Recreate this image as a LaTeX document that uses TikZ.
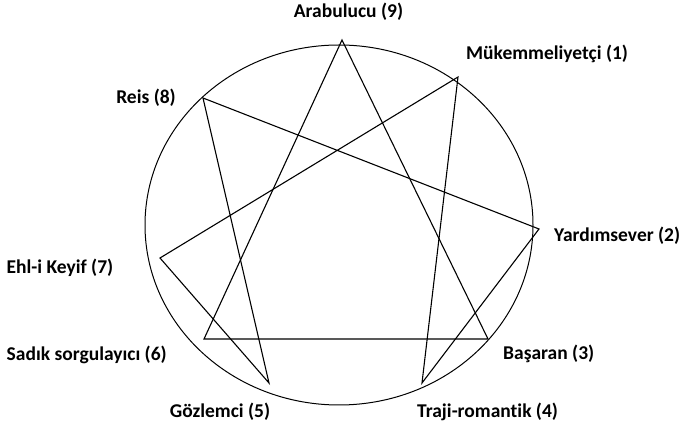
\documentclass[tikz,border=0pt]{standalone}
\usepackage{fontspec}
\setmainfont[Ligatures=NoCommon]{Carlito}
\begin{document}
\begin{tikzpicture}[x=1pt,y=-1pt,
  lbl/.style={font=\bfseries\fontsize{19.5}{22}\selectfont, inner sep=0pt, text=black},
  ln/.style={line width=1.1pt, black, line join=miter}]
\useasboundingbox (0,0) rectangle (683,427);
\coordinate (c) at (339,225);
\coordinate (v9) at (342,40);
\coordinate (v1) at (458,77);
\coordinate (v8) at (203,98);
\coordinate (v2) at (539,229);
\coordinate (v7) at (160,258);
\coordinate (v6) at (204,339);
\coordinate (v3) at (488,339);
\coordinate (v4) at (422,383);
\coordinate (v5) at (269,383);
\draw[line width=1pt] (c) ellipse [x radius=194, y radius=180];
\draw[ln] (v9) -- (v3) -- (v6) -- cycle;
\draw[ln] (v1) -- (v4) -- (v2) -- (v8) -- (v5) -- (v7) -- cycle;
\node[lbl] (l9) at (348.5,12) {Arabulucu (9)};
\node[lbl, anchor=west] (l1) at (466,54) {Mükemmeliyetçi (1)};
\node[lbl, anchor=east] (l8) at (176,98) {Reis (8)};
\node[lbl, anchor=west] (l2) at (554,236) {Yardımsever (2)};
\node[lbl, anchor=west] (l7) at (6.5,268) {Ehl-i Keyif (7)};
\node[lbl, anchor=west] (l6) at (6.5,355) {Sadık sorgulayıcı (6)};
\node[lbl, anchor=west] (l3) at (503,354) {Başaran (3)};
\node[lbl] (l5) at (220,412) {Gözlemci (5)};
\node[lbl, anchor=west] (l4) at (417,412) {Traji-romantik (4)};
\end{tikzpicture}
\end{document}
